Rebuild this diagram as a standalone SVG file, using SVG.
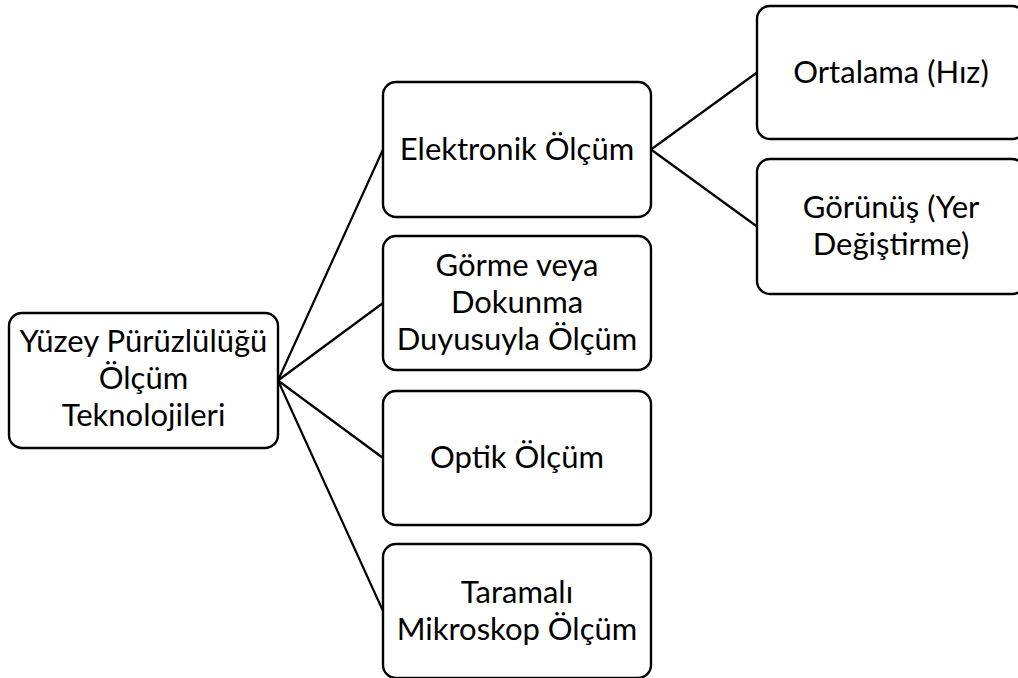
<svg xmlns="http://www.w3.org/2000/svg" width="1018" height="678" viewBox="0 0 1018 678">
<style>
.box{fill:#ffffff;stroke:#000000;stroke-width:2.4}
.lbl{font-family:Lato,"Liberation Sans",sans-serif;font-size:31px;fill:#000000;text-anchor:middle}
.con{stroke:#000000;stroke-width:2.2;fill:none}
</style>
<rect width="1018" height="678" fill="#ffffff"/>
<g id="connectors">
<line class="con" x1="278" y1="380.5" x2="383" y2="149.5"/>
<line class="con" x1="278" y1="380.5" x2="383" y2="303"/>
<line class="con" x1="278" y1="380.5" x2="383" y2="458"/>
<line class="con" x1="278" y1="380.5" x2="383" y2="611"/>
<line class="con" x1="651" y1="149.5" x2="757" y2="72.5"/>
<line class="con" x1="651" y1="149.5" x2="757" y2="226.5"/>
</g>
<g id="root">
<rect class="box" x="9" y="313" width="269" height="135" rx="13"/>
<text class="lbl" x="143.5" y="352">Yüzey Pürüzlülüğü</text>
<text class="lbl" x="143.5" y="389">Ölçüm</text>
<text class="lbl" x="143.5" y="426">Teknolojileri</text>
</g>
<g id="elektronik">
<rect class="box" x="383" y="82" width="268" height="135" rx="13"/>
<text class="lbl" x="517" y="159.5">Elektronik Ölçüm</text>
</g>
<g id="gorme">
<rect class="box" x="383" y="236" width="268" height="134" rx="13"/>
<text class="lbl" x="517" y="276">Görme veya</text>
<text class="lbl" x="517" y="313">Dokunma</text>
<text class="lbl" x="517" y="350">Duyusuyla Ölçüm</text>
</g>
<g id="optik">
<rect class="box" x="383" y="391" width="268" height="134" rx="13"/>
<text class="lbl" x="517" y="468">Optik Ölçüm</text>
</g>
<g id="taramali">
<rect class="box" x="383" y="544" width="268" height="134" rx="13"/>
<text class="lbl" x="517" y="603">Taramalı</text>
<text class="lbl" x="517" y="640">Mikroskop Ölçüm</text>
</g>
<g id="ortalama">
<rect class="box" x="757" y="6" width="268" height="133" rx="13"/>
<text class="lbl" x="891" y="83">Ortalama (Hız)</text>
</g>
<g id="gorunus">
<rect class="box" x="757" y="159" width="268" height="135" rx="13"/>
<text class="lbl" x="891" y="218">Görünüş (Yer</text>
<text class="lbl" x="891" y="255">Değiştirme)</text>
</g>
</svg>
